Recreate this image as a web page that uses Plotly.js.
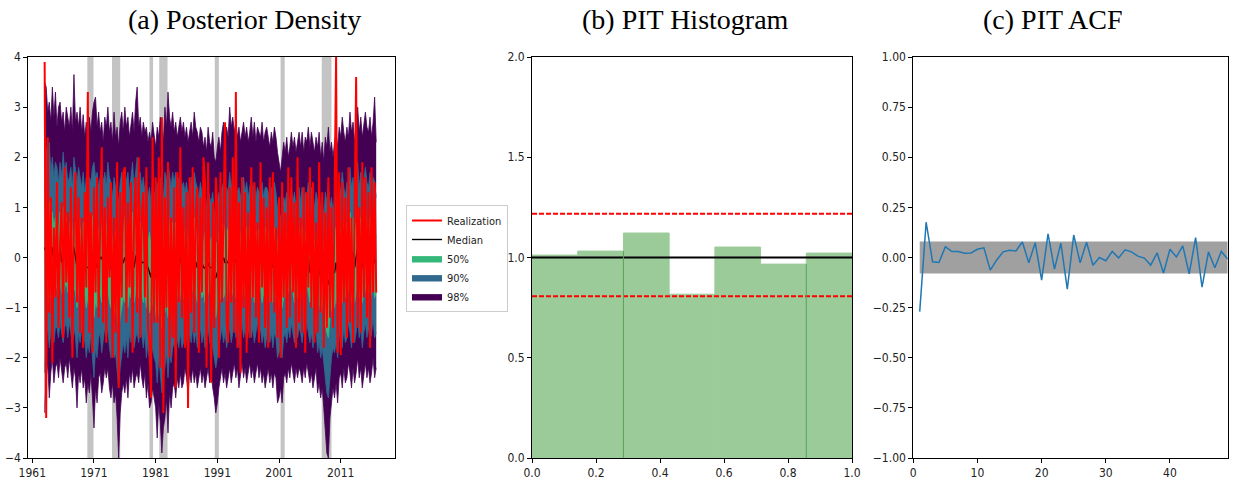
<!DOCTYPE html>
<html><head><meta charset="utf-8">
<script src="https://cdn.plot.ly/plotly-3.0.1.min.js"></script>
<style>html,body{margin:0;padding:0;background:#fff}#chart{width:1233px;height:485px}</style>
</head><body><div id="chart"></div>
<script>
// ---------- Panel (a): quarterly posterior bands, 1963Q1 .. 2016Q4 ----------
const startYear = 1963;
const stepYears = 0.25;
const realization = [
3.9,-3.2,2.4,-1.1, 1.2,-2.1,0.6,-0.8, 1.5,-1.4,0.3,1.1, -1.6,1.8,-0.5,0.9, -1.2,1.4,-2.0,0.7,
1.7,-0.9,1.2,-1.5, 0.8,-1.8,1.3,-0.6, 3.3,-1.5,0.9,-1.9, 1.4,-0.7,1.6,-1.2, 0.6,2.2,-1.3,1.0,
-1.7,1.2,-0.4,1.5, -2.0,0.8,-1.5,1.9, -2.6,1.3,-0.8,1.7, 1.8,-1.3,1.1,-0.6, 1.5,-1.9,0.7,1.6,
-1.1,2.0,-1.6,0.9, 1.3,-0.8,1.8,-1.4, -1.7,-2.8,2.4,-1.3, 1.6,-1.3,2.0,-2.2, 2.8,-3.1,1.2,-1.0,
1.9,-2.0,0.8,-1.6, 1.4,-2.6,1.7,-0.9, 2.2,-1.2,1.0,-1.8, 1.3,-3.0,1.6,-1.1, 1.8,-1.5,0.9,1.4,
-1.9,1.2,-0.7,2.0, 1.5,-2.2,1.9,-1.0, -2.5,1.1,-1.4,1.6, 1.0,-2.0,1.7,-0.9, 0.8,2.7,-1.3,-1.7,
1.4,-0.9,2.0,-1.5, 3.3,-1.8,1.1,-2.3, 1.6,-1.0,1.3,-1.9, 0.9,-1.6,1.8,-0.8, 1.5,-1.2,0.7,-1.7,
1.9,-0.6,1.2,-1.4, 1.0,-1.8,1.6,-0.9, 1.7,-1.1,0.6,-1.6, 1.2,-2.0,1.5,-0.8, 0.9,-1.4,1.8,-1.2,
1.6,-0.7,1.1,-1.8, 2.0,-1.3,0.8,-1.5, 1.4,-1.9,1.3,-0.6, 1.8,-1.0,1.5,-1.7, 0.7,-1.5,1.9,-1.1,
1.3,-1.8,0.9,-1.4, 1.6,-1.2,1.0,-1.4, 1.1,4.0,-1.9,1.7, -1.95,1.5,-0.9,1.2, -1.6,1.8,-1.3,0.8,
-1.7,1.2,3.6,-1.4, 1.0,-1.5,1.9,-0.8, 1.6,-1.2,1.3,-1.8, 1.8,-0.7,1.5,-0.7];
const median = [
0.2,0.1,0.1,0.1, 0.0,0.2,-0.1,0.1, 0.1,-0.1,0.2,-0.1, 0.1,0.1,0.2,-0.1, 0.0,0.1,-0.2,0.2,
0.0,-0.2,0.1,-0.1, -0.1,-0.1,-0.1,-0.2, -0.2,-0.2,-0.1,-0.1, -0.2,-0.1,-0.2,-0.1, 0.0,0.0,-0.1,0.0,
-0.1,0.1,-0.1,-0.2, -0.3,-0.2,-0.2,-0.4, -0.5,-0.3,-0.1,-0.1, 0.0,-0.1,-0.1,-0.1, -0.1,0.1,-0.2,0.0,
0.1,-0.1,0.1,-0.1, -0.1,-0.1,-0.2,-0.2, -0.3,-0.4,-0.1,-0.3, -0.4,-0.3,-0.3,-0.2, -0.4,-0.4,-0.1,-0.1,
-0.1,-0.1,-0.2,-0.1, -0.1,-0.1,-0.1,-0.1, 0.0,-0.2,-0.1,-0.1, -0.1,-0.3,-0.1,-0.1, -0.1,0.0,-0.1,-0.2,
-0.2,-0.1,-0.1,-0.2, -0.2,-0.3,-0.1,-0.2, -0.2,-0.2,-0.4,-0.4, -0.3,-0.2,-0.2,-0.1, 0.0,-0.1,-0.1,-0.1,
0.1,-0.1,0.0,0.0, -0.1,0.0,-0.1,-0.1, 0.0,-0.1,-0.1,-0.1, -0.1,0.0,0.0,-0.1, -0.1,-0.1,0.0,-0.1,
-0.1,-0.1,-0.1,-0.1, -0.1,0.0,-0.2,0.0, -0.2,-0.1,-0.1,-0.3, -0.4,-0.4,-0.3,-0.2, -0.2,-0.2,-0.1,-0.2,
0.0,-0.2,-0.2,-0.1, -0.2,0.0,-0.2,-0.1, -0.1,-0.1,-0.1,0.0, -0.3,-0.1,-0.3,-0.2, -0.1,-0.3,-0.2,-0.4,
-0.2,-0.5,-0.4,-0.6, -0.5,-0.4,-0.3,-0.3, -0.3,-0.1,-0.3,0.0, -0.1,0.0,0.0,-0.2, -0.1,-0.1,0.1,-0.1,
0.1,-0.2,0.0,0.2, -0.1,0.1,-0.2,0.0, 0.1,0.0,0.0,0.0, -0.1,0.1,-0.1,-0.1];
const upper98 = [
3.5,3.4,2.9,3.1, 2.7,3.4,2.8,3.3, 2.6,3.0,3.1,2.7, 2.9,2.5,3.0,2.8, 2.6,3.0,2.5,3.65,
2.7,2.9,2.6,3.0, 2.5,2.85,2.4,2.7, 2.3,2.8,2.5,2.9, 3.1,3.2,2.6,2.9, 2.5,2.7,2.3,2.8,
2.6,3.0,2.5,2.7, 2.3,2.9,2.4,2.6, 2.2,2.7,2.9,2.5, 3.0,2.6,2.8,2.4, 2.7,2.9,2.5,3.1,
3.4,2.6,2.8,2.4, 2.7,2.5,2.6,2.3, 2.5,2.3,2.7,2.4, 2.2,2.6,2.4,2.8, 2.5,2.3,3.0,2.6,
3.3,2.8,2.6,2.9, 2.5,2.7,2.4,2.6, 2.8,2.5,2.7,2.4, 2.6,2.3,2.5,2.7, 2.4,2.9,2.6,2.5,
2.3,2.6,2.5,2.2, 2.4,2.1,2.6,2.3, 2.2,2.5,2.0,1.9, 2.2,2.4,2.1,2.5, 2.7,2.3,2.6,2.4,
3.0,2.6,2.8,2.5, 2.7,2.4,2.6,2.3, 2.5,2.7,2.4,2.6, 2.3,2.5,2.8,2.4, 2.7,2.3,2.6,2.5,
2.4,2.7,2.3,2.5, 2.6,2.4,2.2,2.5, 2.3,2.6,2.4,2.1, 1.9,1.7,2.0,2.3, 2.1,2.4,2.0,2.2,
2.5,2.2,2.4,2.1, 2.3,2.5,2.2,2.5, 2.1,2.4,2.3,2.6, 2.2,2.5,2.3,2.1, 2.4,2.2,2.5,2.0,
2.3,1.9,2.4,2.2, 2.6,2.1,2.3,2.0, 2.3,2.5,2.2,2.6, 2.4,2.8,2.5,2.3, 2.6,2.4,2.9,2.5,
2.7,2.3,2.6,3.0, 2.5,2.8,2.4,2.7, 2.9,2.6,2.5,2.8, 2.4,2.7,3.2,2.3];
const lower98 = [
-3.1,-2.4,-2.1,-2.8, -2.3,-2.0,-2.5,-2.2, -2.1,-2.4,-2.0,-2.3, -2.5,-2.2,-2.1,-2.4, -2.0,-2.3,-2.6,-2.2,
-2.4,-3.0,-2.3,-2.5, -2.2,-2.6,-2.4,-2.9, -2.5,-2.7,-2.3,-2.8, -3.4,-2.6,-2.9,-2.4, -2.3,-2.7,-2.5,-2.2,
-2.4,-2.2,-2.6,-2.8, -2.5,-2.9,-2.7,-3.2, -4.0,-3.1,-2.7,-2.5, -2.7,-2.4,-2.8,-2.3, -2.5,-2.2,-2.6,-2.4,
-2.3,-2.5,-2.1,-2.4, -2.6,-2.3,-2.8,-2.5, -3.0,-2.9,-2.6,-2.8, -3.0,-3.6,-2.9,-3.3, -3.9,-3.4,-3.2,-2.8,
-3.5,-2.7,-3.0,-2.6, -2.5,-2.8,-2.4,-2.6, -2.3,-2.6,-2.5,-2.2, -2.4,-2.7,-2.3,-2.5, -2.2,-2.5,-2.3,-2.6,
-2.4,-2.2,-2.5,-2.3, -2.6,-2.4,-2.2,-2.5, -2.3,-2.6,-2.8,-3.1, -2.9,-2.6,-2.4,-2.2, -2.5,-2.3,-2.6,-2.4,
-2.2,-2.5,-2.3,-2.1, -2.4,-2.2,-2.6,-2.3, -2.1,-2.4,-2.2,-2.5, -2.3,-2.1,-2.4,-2.2, -2.5,-2.3,-2.1,-2.4,
-2.2,-2.5,-2.3,-2.6, -2.4,-2.2,-2.5,-2.3, -2.6,-2.3,-2.4,-2.9, -2.8,-2.6,-2.9,-2.4, -2.3,-2.5,-2.2,-2.4,
-2.1,-2.3,-2.5,-2.2, -2.4,-2.2,-2.3,-2.5, -2.2,-2.4,-2.1,-2.3, -2.5,-2.3,-2.6,-2.4, -2.2,-2.7,-2.5,-2.8,
-2.6,-3.0,-3.4,-3.9, -4.0,-3.2,-2.9,-2.6, -2.8,-2.5,-2.9,-2.4, -2.3,-2.6,-2.2,-2.5, -2.4,-2.1,-2.3,-2.6,
-2.2,-2.5,-2.3,-2.0, -2.4,-2.2,-2.6,-2.3, -2.1,-2.4,-2.2,-2.5, -2.3,-2.0,-2.4,-2.2];
const upper90 = [
2.6,2.1,1.8,2.3, 1.7,2.0,1.6,1.9, 1.8,1.5,1.9,1.6, 2.1,1.7,1.9,1.5, 1.6,1.8,1.4,2.0,
1.7,1.5,1.8,1.6, 1.4,1.7,1.3,1.6, 1.2,1.6,1.5,1.8, 1.9,1.6,1.7,1.4, 1.6,1.8,1.5,1.7,
1.4,1.9,1.6,1.5, 1.2,1.6,1.4,1.3, 1.1,1.5,1.7,1.4, 1.8,1.5,1.7,1.3, 1.6,1.9,1.4,1.7,
2.0,1.5,1.7,1.4, 1.6,1.3,1.5,1.2, 1.4,1.1,1.5,1.3, 1.2,1.5,1.3,1.6, 1.4,1.2,1.7,1.5,
1.9,1.6,1.4,1.7, 1.5,1.7,1.3,1.6, 1.6,1.4,1.5,1.3, 1.5,1.2,1.4,1.6, 1.3,1.7,1.5,1.4,
1.2,1.5,1.3,1.1, 1.3,1.0,1.4,1.2, 1.1,1.3,0.9,1.0, 1.1,1.3,1.0,1.4, 1.5,1.2,1.4,1.3,
1.7,1.4,1.6,1.3, 1.5,1.3,1.4,1.2, 1.4,1.6,1.3,1.5, 1.2,1.4,1.6,1.3, 1.5,1.2,1.4,1.3,
1.3,1.5,1.2,1.4, 1.4,1.3,1.1,1.4, 1.2,1.5,1.3,1.0, 0.9,0.8,1.0,1.2, 1.1,1.3,1.0,1.2,
1.4,1.1,1.3,1.0, 1.2,1.4,1.1,1.4, 1.0,1.3,1.2,1.5, 1.1,1.4,1.2,1.0, 1.3,1.1,1.4,0.9,
1.2,0.8,1.3,1.1, 1.5,1.0,1.2,0.9, 1.2,1.4,1.1,1.5, 1.3,1.7,1.4,1.2, 1.5,1.3,1.8,1.4,
1.6,1.2,1.5,1.9, 1.4,1.7,1.3,1.6, 1.8,1.5,1.4,1.7, 1.3,1.6,1.5,1.2];
const lower90 = [
-2.3,-1.6,-1.4,-1.8, -1.5,-1.3,-1.7,-1.4, -1.4,-1.6,-1.3,-1.5, -1.7,-1.4,-1.3,-1.6, -1.3,-1.5,-1.8,-1.4,
-1.6,-2.0,-1.5,-1.7, -1.4,-1.8,-1.6,-2.0, -1.7,-1.9,-1.5,-2.0, -2.4,-1.8,-2.0,-1.6, -1.5,-1.9,-1.7,-1.4,
-1.6,-1.4,-1.8,-2.0, -1.7,-2.0,-1.9,-2.3, -2.6,-2.2,-1.9,-1.7, -1.9,-1.6,-2.0,-1.5, -1.7,-1.4,-1.8,-1.6,
-1.5,-1.7,-1.3,-1.6, -1.8,-1.5,-2.0,-1.7, -2.1,-2.0,-1.8,-2.0, -2.1,-2.5,-2.0,-2.3, -2.7,-2.4,-2.2,-1.9,
-2.4,-1.9,-2.1,-1.8, -1.7,-2.0,-1.6,-1.8, -1.5,-1.8,-1.7,-1.4, -1.6,-1.9,-1.5,-1.7, -1.4,-1.7,-1.5,-1.8,
-1.6,-1.4,-1.7,-1.5, -1.8,-1.6,-1.4,-1.7, -1.5,-1.8,-2.0,-2.2, -2.0,-1.8,-1.6,-1.4, -1.7,-1.5,-1.8,-1.6,
-1.4,-1.7,-1.5,-1.3, -1.6,-1.4,-1.8,-1.5, -1.3,-1.6,-1.4,-1.7, -1.5,-1.3,-1.6,-1.4, -1.7,-1.5,-1.3,-1.6,
-1.4,-1.7,-1.5,-1.8, -1.6,-1.4,-1.7,-1.5, -1.8,-1.5,-1.6,-2.0, -1.9,-1.8,-2.0,-1.6, -1.5,-1.7,-1.4,-1.6,
-1.3,-1.5,-1.7,-1.4, -1.6,-1.4,-1.5,-1.7, -1.4,-1.6,-1.3,-1.5, -1.7,-1.5,-1.8,-1.6, -1.4,-1.9,-1.7,-2.0,
-1.8,-2.1,-2.4,-2.7, -2.8,-2.3,-2.0,-1.8, -1.9,-1.7,-2.0,-1.6, -1.5,-1.8,-1.4,-1.7, -1.6,-1.3,-1.5,-1.8,
-1.4,-1.7,-1.5,-1.2, -1.6,-1.4,-1.8,-1.5, -1.3,-1.6,-1.4,-1.7, -1.5,-1.2,-1.6,-1.5];
const upper50 = [
1.4,1.0,0.8,1.1, 0.7,0.9,0.6,0.8, 0.8,0.5,0.9,0.6, 1.0,0.7,0.8,0.5, 0.6,0.8,0.4,0.9,
0.7,0.5,0.8,0.6, 0.5,0.7,0.4,0.6, 0.3,0.6,0.5,0.8, 0.9,0.6,0.7,0.5, 0.6,0.8,0.5,0.7,
0.5,0.9,0.6,0.5, 0.3,0.6,0.5,0.4, 0.2,0.5,0.7,0.5, 0.8,0.5,0.7,0.4, 0.6,0.9,0.5,0.7,
1.0,0.5,0.7,0.5, 0.6,0.4,0.5,0.3, 0.5,0.2,0.6,0.4, 0.3,0.6,0.4,0.7, 0.5,0.3,0.8,0.6,
0.9,0.6,0.5,0.7, 0.5,0.7,0.4,0.6, 0.7,0.5,0.6,0.4, 0.6,0.3,0.5,0.7, 0.4,0.8,0.6,0.5,
0.4,0.6,0.5,0.3, 0.5,0.2,0.6,0.4, 0.3,0.5,0.2,0.3, 0.3,0.5,0.3,0.6, 0.7,0.4,0.6,0.5,
0.8,0.6,0.7,0.5, 0.7,0.5,0.6,0.4, 0.6,0.7,0.5,0.6, 0.4,0.6,0.7,0.5, 0.6,0.4,0.6,0.5,
0.5,0.6,0.4,0.6, 0.6,0.5,0.3,0.6, 0.4,0.6,0.5,0.3, 0.2,0.1,0.3,0.4, 0.3,0.5,0.3,0.4,
0.6,0.3,0.5,0.3, 0.4,0.6,0.3,0.6, 0.3,0.5,0.4,0.7, 0.3,0.6,0.4,0.3, 0.5,0.3,0.6,0.2,
0.4,0.1,0.5,0.3, 0.6,0.3,0.4,0.2, 0.4,0.6,0.3,0.7, 0.5,0.8,0.6,0.4, 0.7,0.5,0.9,0.6,
0.8,0.4,0.7,1.0, 0.6,0.8,0.5,0.7, 0.9,0.7,0.6,0.8, 0.5,0.7,0.6,0.4];
const lower50 = [
-1.2,-0.8,-0.6,-0.9, -0.7,-0.5,-0.8,-0.6, -0.6,-0.8,-0.5,-0.7, -0.8,-0.6,-0.5,-0.7, -0.5,-0.7,-0.9,-0.6,
-0.7,-1.0,-0.6,-0.8, -0.6,-0.9,-0.7,-1.0, -0.8,-1.0,-0.7,-1.0, -1.2,-0.9,-1.0,-0.7, -0.7,-0.9,-0.8,-0.6,
-0.8,-0.6,-0.9,-1.0, -0.9,-1.1,-1.0,-1.2, -1.4,-1.2,-1.0,-0.8, -0.9,-0.7,-1.0,-0.7, -0.8,-0.6,-0.9,-0.7,
-0.6,-0.8,-0.5,-0.7, -0.9,-0.7,-1.0,-0.8, -1.1,-1.0,-0.9,-1.0, -1.1,-1.3,-1.0,-1.2, -1.4,-1.2,-1.1,-0.9,
-1.2,-0.9,-1.0,-0.8, -0.8,-1.0,-0.7,-0.9, -0.7,-0.9,-0.8,-0.6, -0.8,-1.0,-0.7,-0.8, -0.6,-0.8,-0.7,-0.9,
-0.8,-0.6,-0.8,-0.7, -0.9,-0.8,-0.6,-0.8, -0.7,-0.9,-1.0,-1.2, -1.0,-0.9,-0.8,-0.6, -0.8,-0.7,-0.9,-0.8,
-0.6,-0.8,-0.7,-0.5, -0.8,-0.6,-0.9,-0.7, -0.6,-0.8,-0.6,-0.9, -0.7,-0.5,-0.8,-0.6, -0.9,-0.7,-0.6,-0.8,
-0.6,-0.9,-0.7,-0.9, -0.8,-0.6,-0.9,-0.7, -0.9,-0.7,-0.8,-1.0, -1.0,-0.9,-1.0,-0.8, -0.7,-0.9,-0.6,-0.8,
-0.6,-0.7,-0.9,-0.6, -0.8,-0.6,-0.7,-0.9, -0.6,-0.8,-0.5,-0.7, -0.9,-0.7,-1.0,-0.8, -0.6,-1.0,-0.9,-1.1,
-0.9,-1.1,-1.3,-1.5, -1.6,-1.2,-1.0,-0.9, -1.0,-0.8,-1.0,-0.8, -0.7,-0.9,-0.6,-0.8, -0.8,-0.6,-0.7,-0.9,
-0.6,-0.9,-0.7,-0.5, -0.8,-0.6,-0.9,-0.7, -0.6,-0.8,-0.6,-0.9, -0.7,-0.5,-0.8,-0.7];
const recessions = [[1969.92,1970.92],[1973.92,1975.25],[1980.0,1980.58],[1981.58,1982.92],
                    [1990.58,1991.25],[2001.25,2001.92],[2007.92,2009.5]];
const yearTicks = [1961, 1971, 1981, 1991, 2001, 2011];

// ---------- Panel (b): PIT histogram ----------
const pitDensity = [1.012, 1.032, 1.122, 0.817, 1.052, 0.967, 1.022];
const uniformLevel = 1.0;
const confBounds = [0.807, 1.218];
const edgeLinesAt = [2, 6];   // bin-edge indices drawn as darker lines

// ---------- Panel (c): PIT ACF ----------
const acfLags = [1,2,3,4,5,6,7,8,9,10,11,12,13,14,15,16,17,18,19,20,21,22,23,24,25,
                 26,27,28,29,30,31,32,33,34,35,36,37,38,39,40,41,42,43,44,45,46,47,48,49];
const acfValues = [-0.27,0.176,-0.021,-0.025,0.054,0.03,0.03,0.021,0.023,0.041,0.048,-0.063,-0.012,
  0.028,0.036,0.033,0.077,-0.026,0.074,-0.113,0.118,-0.058,0.071,-0.158,0.112,-0.026,0.076,-0.039,
  0.0,-0.016,0.03,-0.002,0.038,0.028,0.007,-0.003,-0.038,0.023,-0.077,0.041,0.003,0.058,-0.082,
  0.099,-0.148,0.028,-0.051,0.03,-0.008];
const acfBand = 0.08;

// ---------- build ----------
const dates = realization.map((_, i) => startYear + i * stepYears);
const C50 = '#35b779', C90 = '#31688e', C98 = '#440154';
const traces = [];
function band(lo, hi, color, name, rank) {
  traces.push({x: dates, y: lo, type: 'scatter', mode: 'lines', line: {color: color, width: 0.8},
    showlegend: false, hoverinfo: 'skip', xaxis: 'x', yaxis: 'y'});
  traces.push({x: dates, y: hi, type: 'scatter', mode: 'lines', line: {color: color, width: 0.8},
    fill: 'tonexty', fillcolor: color, name: name, legendrank: rank, xaxis: 'x', yaxis: 'y'});
}
band(lower98, upper98, C98, '98%', 5);
band(lower90, upper90, C90, '90%', 4);
band(lower50, upper50, C50, '50%', 3);
traces.push({x: dates, y: median, type: 'scatter', mode: 'lines', line: {color: '#000', width: 1.4},
  name: 'Median', legendrank: 2, xaxis: 'x', yaxis: 'y'});
traces.push({x: dates, y: realization, type: 'scatter', mode: 'lines', line: {color: '#ff0000', width: 2},
  name: 'Realization', legendrank: 1, xaxis: 'x', yaxis: 'y'});

const nBins = pitDensity.length;
const binW = 1 / nBins;
traces.push({x: pitDensity.map((_, i) => (i + 0.5) * binW), y: pitDensity, type: 'bar', width: binW,
  marker: {color: '#9bcb98', line: {width: 1, color: '#9bcb98'}}, showlegend: false, xaxis: 'x2', yaxis: 'y2'});
confBounds.forEach(b => traces.push({x: [0, 1], y: [b, b], type: 'scatter', mode: 'lines',
  line: {color: '#ff0000', width: 2, dash: '5px,2px'}, showlegend: false, xaxis: 'x2', yaxis: 'y2'}));
traces.push({x: [0, 1], y: [uniformLevel, uniformLevel], type: 'scatter', mode: 'lines',
  line: {color: '#000', width: 2.2}, showlegend: false, xaxis: 'x2', yaxis: 'y2'});

traces.push({x: acfLags, y: acfValues, type: 'scatter', mode: 'lines',
  line: {color: '#1f77b4', width: 1.5}, showlegend: false, xaxis: 'x3', yaxis: 'y3'});

const shapes = [];
recessions.forEach(r => shapes.push({type: 'rect', xref: 'x', yref: 'y', x0: r[0], x1: r[1], y0: -4, y1: 4,
  fillcolor: '#c4c4c4', line: {width: 0}, layer: 'below'}));
edgeLinesAt.forEach(k => shapes.push({type: 'line', xref: 'x2', yref: 'y2', x0: k * binW, x1: k * binW,
  y0: 0, y1: Math.min(pitDensity[k - 1], pitDensity[k]), line: {color: '#5aa35a', width: 1}}));
shapes.push({type: 'rect', xref: 'x3', yref: 'y3', x0: acfLags[0], x1: acfLags[acfLags.length - 1],
  y0: -acfBand, y1: acfBand, fillcolor: '#a0a0a0', line: {width: 0}, layer: 'below'});

const tickFont = {family: 'Liberation Sans Narrow, DejaVu Sans Condensed, sans-serif', size: 12, color: '#222'};
const ax = {showline: true, linecolor: '#000', linewidth: 1, mirror: true, ticks: 'outside', ticklen: 4,
  tickcolor: '#000', showgrid: false, zeroline: false, tickfont: tickFont, fixedrange: true};
const yTop = 1 - 57 / 485, yBot = 1 - 458 / 485;
const titleFont = {family: 'Liberation Serif, DejaVu Serif, serif', size: 28, color: '#000'};
const layout = {
  width: 1233, height: 485, margin: {l: 0, r: 0, t: 0, b: 0}, paper_bgcolor: '#fff', plot_bgcolor: '#fff',
  xaxis: Object.assign({}, ax, {domain: [28.3 / 1233, 395 / 1233], range: [1960.35, 2019.8],
    tickvals: yearTicks, ticktext: yearTicks.map(String)}),
  yaxis: Object.assign({}, ax, {domain: [yBot, yTop], range: [-4, 4], dtick: 1, tick0: 0}),
  xaxis2: Object.assign({}, ax, {domain: [532 / 1233, 852 / 1233], range: [0, 1], dtick: 0.2, tickformat: '.1f', anchor: 'y2'}),
  yaxis2: Object.assign({}, ax, {domain: [yBot, yTop], range: [0, 2], dtick: 0.5, tickformat: '.1f', anchor: 'x2'}),
  xaxis3: Object.assign({}, ax, {domain: [913.3 / 1233, 1227.7 / 1233], range: [0, 49], dtick: 10, anchor: 'y3'}),
  yaxis3: Object.assign({}, ax, {domain: [yBot, yTop], range: [-1, 1], dtick: 0.25, tickformat: '.2f', anchor: 'x3'}),
  showlegend: true,
  legend: {x: 406 / 1233, y: 1 - 205 / 485, xanchor: 'left', yanchor: 'top', bordercolor: '#cccccc', borderwidth: 1,
    bgcolor: '#fff', font: {family: 'Liberation Sans Narrow, DejaVu Sans Condensed, sans-serif', size: 11, color: '#222'},
    itemwidth: 30, traceorder: 'normal', tracegroupgap: 0},
  shapes: shapes,
  annotations: [
    {text: '(a) Posterior Density', xref: 'paper', yref: 'paper', x: 244 / 1233, y: 1 - 20 / 485, showarrow: false, font: titleFont, xanchor: 'center', yanchor: 'middle'},
    {text: '(b) PIT Histogram', xref: 'paper', yref: 'paper', x: 685 / 1233, y: 1 - 20 / 485, showarrow: false, font: titleFont, xanchor: 'center', yanchor: 'middle'},
    {text: '(c) PIT ACF', xref: 'paper', yref: 'paper', x: 1053 / 1233, y: 1 - 20 / 485, showarrow: false, font: titleFont, xanchor: 'center', yanchor: 'middle'}
  ]
};
Plotly.newPlot('chart', traces, layout, {displayModeBar: false, staticPlot: true});
</script></body></html>
